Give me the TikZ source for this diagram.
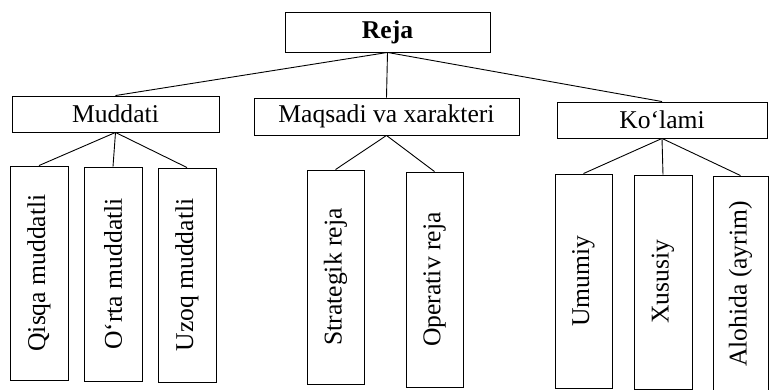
\documentclass[tikz,border=0pt]{standalone}
\usepackage{fontspec}
\usepackage{graphicx}
\setmainfont{Liberation Serif}

\tikzset{
  box/.style={draw, line width=0.9pt, inner sep=0pt, font=\fontsize{25.6}{30}\selectfont},
  rejabox/.style={box, minimum width=205, minimum height=40},
  groupbox/.style={box, minimum height=36},
  leafbox/.style={box, minimum width=58, minimum height=214},
  link/.style={line width=0.9pt}
}

\begin{document}
\begin{tikzpicture}[x=1pt,y=-1pt]
    \useasboundingbox (0,0) rectangle (769,390);

    \node[rejabox] (reja) at (387.5,32) {\textbf{Reja}};

    \node[groupbox, minimum width=207] (muddati) at (115.5,114) {Muddati};
    \node[groupbox, minimum width=265, minimum height=37] (maqsad) at (386.5,116.5) {Maqsadi va xarakteri};
    \node[groupbox, minimum width=210] (kolam) at (662,120) {Ko‘lami};

    \node[leafbox] (qisqa) at (39,273) {\rotatebox{90}{Qisqa muddatli}};
    \node[leafbox] (orta) at (113,274) {\rotatebox{90}{O‘rta muddatli}};
    \node[leafbox] (uzoq) at (187,275) {\rotatebox{90}{Uzoq muddatli}};

    \node[leafbox, minimum width=57] (strateg) at (335.5,277) {\rotatebox{90}{Strategik reja}};
    \node[leafbox, minimum width=57, minimum height=215] (operativ) at (434.5,279.5) {\rotatebox{90}{Operativ reja}};

    \node[leafbox, minimum width=57] (umumiy) at (583.5,281) {\rotatebox{90}{Umumiy}};
    \node[leafbox] (xususiy) at (663,282) {\rotatebox{90}{Xususiy}};
    \node[leafbox, minimum width=55, minimum height=216] (alohida) at (740.5,284) {\rotatebox{90}{Alohida (ayrim)}};

    \draw[link] (reja.south) -- (muddati.north);
    \draw[link] (reja.south) -- (maqsad.north);
    \draw[link] (reja.south) -- (kolam.north);

    \draw[link] (muddati.south) -- (qisqa.north);
    \draw[link] (muddati.south) -- (orta.north);
    \draw[link] (muddati.south) -- (uzoq.north);

    \draw[link] (maqsad.south) -- (strateg.north);
    \draw[link] (maqsad.south) -- (operativ.north);

    \draw[link] (kolam.south) -- (umumiy.north);
    \draw[link] (kolam.south) -- (xususiy.north);
    \draw[link] (kolam.south) -- (alohida.north);
\end{tikzpicture}
\end{document}
